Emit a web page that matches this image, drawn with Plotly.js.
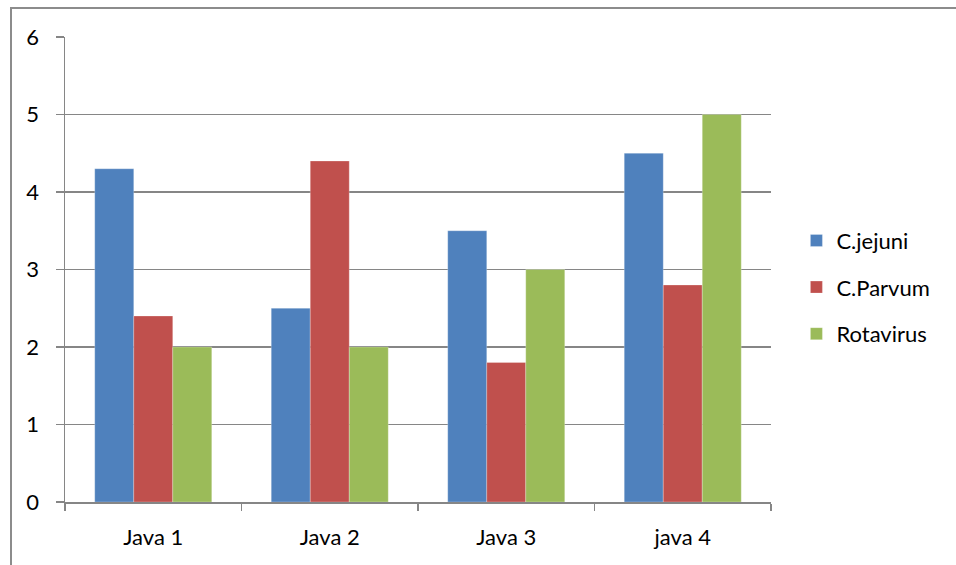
<!DOCTYPE html>
<html>
<head>
<meta charset="utf-8">
<script src="https://cdn.plot.ly/plotly-3.0.1.min.js"></script>
<style>
html,body{margin:0;padding:0;background:#fff;}
#frame{position:absolute;left:10px;top:7px;width:946px;height:558px;border-left:2px solid #8c8c8c;border-top:2px solid #8c8c8c;box-sizing:border-box;}
#chart{position:absolute;left:0;top:0;width:956px;height:565px;}
</style>
</head>
<body>
<div id="frame"></div>
<div id="chart"></div>
<script>
const categories = ["Java 1", "Java 2", "Java 3", "java 4"];
const seriesNames = ["C.jejuni", "C.Parvum", "Rotavirus"];
const cjejuni = [4.3, 2.5, 3.5, 4.5];
const cparvum = [2.4, 4.4, 1.8, 2.8];
const rotavirus = [2.0, 2.0, 3.0, 5.0];
const yTicks = [0, 1, 2, 3, 4, 5, 6];

const colors = ["#4F81BD", "#C0504D", "#9BBB59"];
const values = [cjejuni, cparvum, rotavirus];

const traces = values.map((v, i) => ({
  type: "bar",
  name: seriesNames[i],
  x: categories,
  y: v,
  marker: {color: colors[i], line: {color: "rgba(255,255,255,0.5)", width: 0.5}},
  legendgroup: "g" + i,
  hoverinfo: "none"
}));

const font = {family: "Lato, 'Open Sans', sans-serif", size: 22, color: "#000"};

const layout = {
  width: 956, height: 565,
  margin: {l: 65, r: 185, t: 37, b: 63},
  paper_bgcolor: "rgba(0,0,0,0)",
  plot_bgcolor: "rgba(0,0,0,0)",
  barmode: "group",
  bargap: 0.337,
  bargroupgap: 0,
  font: font,
  showlegend: true,
  legend: {
    x: 1.036, xanchor: "left", y: 0.462, yanchor: "middle",
    traceorder: "grouped", tracegroupgap: 15,
    font: font, bgcolor: "rgba(0,0,0,0)"
  },
  xaxis: {
    type: "category",
    tickson: "boundaries",
    showgrid: false,
    showline: true, linecolor: "#868686", linewidth: 1.5,
    ticks: "outside", ticklen: 7, tickcolor: "#868686", tickwidth: 1.5,
    ticklabelstandoff: 15,
    tickfont: font,
    zeroline: false
  },
  yaxis: {
    range: [0, 6],
    tickvals: yTicks,
    ticktext: yTicks.map(String),
    showgrid: true, gridcolor: "#868686", gridwidth: 1.5,
    showline: true, linecolor: "#868686", linewidth: 1.5,
    ticks: "outside", ticklen: 8, tickcolor: "#868686", tickwidth: 1.5,
    ticklabelstandoff: 12,
    tickfont: font,
    zeroline: false,
    fixedrange: true
  }
};

Plotly.newPlot("chart", traces, layout, {displayModeBar: false, staticPlot: true});
</script>
</body>
</html>
